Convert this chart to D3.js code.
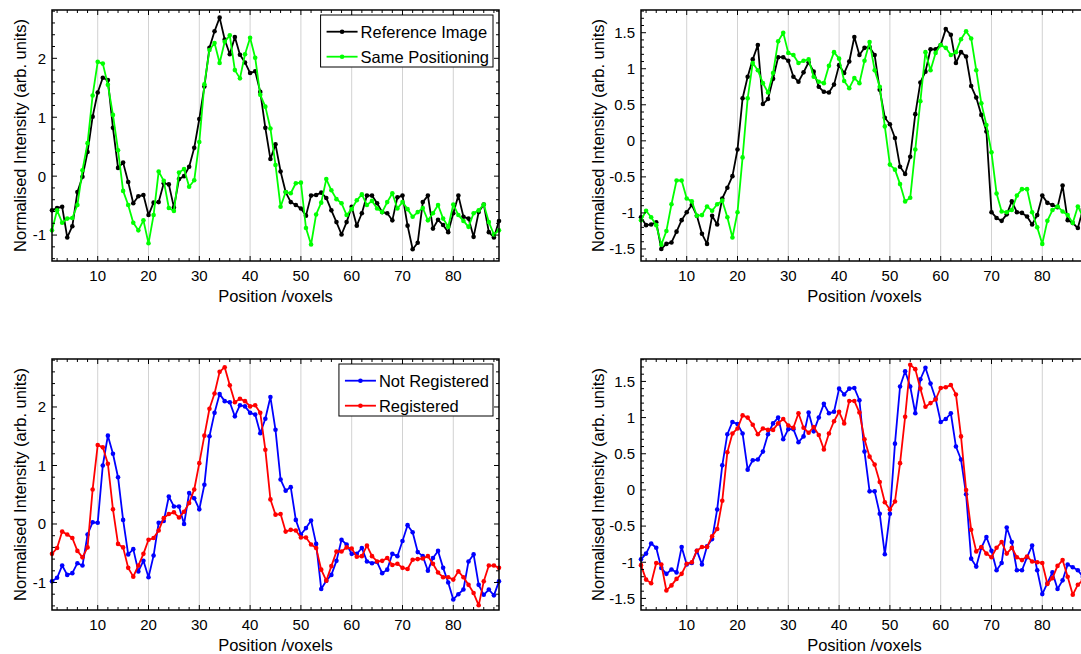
<!DOCTYPE html>
<html>
<head>
<meta charset="utf-8">
<script src="https://cdn.jsdelivr.net/npm/d3@7"></script>
<style>
  body { margin: 0; background: #fff; }
  svg { display: block; font-family: "Liberation Sans", Arial, Helvetica, sans-serif; }
</style>
</head>
<body>
<div id="chart"></div>
<script>
// Intensity profiles along a line through the image, voxel positions 1..89
const voxels = d3.range(1, 90);

const xTicks = [10, 20, 30, 40, 50, 60, 70, 80];
const yTicksLeft = [-1, 0, 1, 2];
const yTicksRight = [-1.5, -1, -0.5, 0, 0.5, 1, 1.5];

// top left
const refImageA = [-0.58, -0.54, -0.52, -1.04, -0.85, -0.27, -0.01, 0.41, 1.01, 1.42,
  1.67, 1.63, 0.82, 0.14, 0.23, -0.10, -0.46, -0.34, -0.32, -0.66,
  -0.45, -0.44, -0.12, -0.14, -0.53, -0.05, 0.00, 0.16, 0.48, 0.97,
  1.52, 2.18, 2.46, 2.69, 2.32, 2.07, 2.36, 2.06, 1.93, 1.75,
  1.78, 1.43, 0.82, 0.29, 0.54, 0.08, -0.27, -0.44, -0.49, -0.55,
  -0.67, -0.33, -0.32, -0.28, -0.37, -0.58, -0.78, -0.99, -0.78, -0.52,
  -0.84, -0.63, -0.33, -0.33, -0.46, -0.61, -0.63, -0.75, -0.36, -0.33,
  -0.84, -1.24, -1.13, -0.44, -0.33, -0.89, -0.74, -0.83, -0.95, -0.63,
  -0.33, -0.69, -0.72, -1.03, -0.61, -0.48, -0.95, -1.04, -0.76];
const samePosA = [-0.92, -0.58, -0.79, -0.72, -0.71, -0.49, 0.10, 0.56, 1.37, 1.94,
  1.91, 1.55, 1.04, 0.44, -0.25, -0.49, -0.79, -0.92, -0.75, -1.14,
  -0.66, 0.08, -0.08, -0.54, -0.59, 0.06, 0.12, -0.18, -0.07, 0.58,
  1.56, 2.14, 2.26, 1.92, 2.28, 2.39, 1.80, 1.66, 2.07, 2.35,
  2.01, 1.38, 1.18, 0.81, 0.19, -0.52, -0.27, -0.29, -0.12, -0.11,
  -0.88, -1.16, -0.65, -0.45, -0.05, -0.24, -0.39, -0.46, -0.66, -0.56,
  -0.41, -0.31, -0.49, -0.42, -0.55, -0.61, -0.44, -0.29, -0.55, -0.44,
  -0.56, -0.69, -0.61, -0.54, -0.75, -0.63, -0.49, -0.72, -0.86, -0.48,
  -0.66, -0.76, -0.86, -0.63, -0.58, -0.48, -0.78, -0.99, -0.92];

// top right
const refImageB = [-1.06, -1.17, -1.16, -1.13, -1.50, -1.43, -1.41, -1.26, -1.10, -0.99,
  -0.89, -1.04, -1.29, -1.43, -1.04, -1.16, -0.80, -0.65, -0.49, -0.12,
  0.59, 0.89, 1.13, 1.33, 0.51, 0.58, 0.86, 1.16, 1.16, 1.11,
  0.89, 0.82, 0.95, 1.09, 0.96, 0.75, 0.68, 0.67, 0.78, 1.05,
  0.94, 1.10, 1.44, 1.19, 1.29, 1.30, 1.19, 0.71, 0.32, 0.23,
  0.04, -0.36, -0.46, -0.22, 0.37, 0.81, 0.96, 1.27, 1.27, 1.33,
  1.55, 1.47, 1.08, 1.23, 1.17, 0.76, 0.60, 0.36, 0.13, -0.99,
  -1.07, -1.11, -1.02, -0.84, -0.99, -1.00, -1.05, -1.16, -1.03, -0.76,
  -0.86, -0.89, -0.92, -0.62, -1.10, -1.14, -1.21, -0.95, -1.05];
const samePosB = [-1.10, -0.97, -1.06, -1.17, -1.44, -1.25, -0.88, -0.55, -0.55, -0.80,
  -0.84, -1.04, -1.03, -0.91, -0.97, -0.88, -0.83, -1.06, -1.34, -0.99,
  -0.23, 0.59, 1.08, 0.98, 0.80, 0.67, 0.94, 1.38, 1.50, 1.22,
  1.19, 1.08, 1.11, 1.13, 0.89, 0.82, 0.80, 1.04, 1.23, 1.14,
  0.83, 0.73, 0.87, 0.80, 1.11, 1.37, 0.98, 0.75, 0.20, -0.33,
  -0.40, -0.60, -0.84, -0.79, -0.12, 0.55, 1.23, 0.98, 1.22, 1.33,
  1.29, 1.19, 1.23, 1.41, 1.52, 1.42, 0.98, 0.52, 0.22, -0.16,
  -0.73, -0.98, -0.99, -0.96, -0.76, -0.67, -0.67, -0.99, -1.20, -1.43,
  -1.11, -0.96, -0.91, -0.98, -1.03, -1.14, -0.91, -1.05, -1.00];

// bottom left
const notRegA = [-0.98, -0.92, -0.71, -0.87, -0.84, -0.67, -0.71, -0.18, 0.03, 0.02,
  1.00, 1.51, 1.20, 0.80, 0.07, -0.52, -0.43, -0.81, -0.63, -0.91,
  -0.54, 0.02, 0.05, 0.47, 0.30, 0.30, 0.00, 0.53, 0.44, 0.25,
  0.67, 1.50, 1.90, 2.22, 2.10, 2.08, 1.84, 2.03, 2.01, 1.90,
  1.87, 1.55, 1.80, 2.17, 1.61, 0.76, 0.57, 0.63, 0.07, -0.18,
  -0.07, 0.06, -0.34, -1.11, -0.97, -0.87, -0.63, -0.27, -0.35, -0.51,
  -0.51, -0.41, -0.64, -0.67, -0.65, -0.84, -0.78, -0.51, -0.55, -0.29,
  -0.02, -0.14, -0.48, -0.55, -0.80, -0.58, -0.46, -0.75, -1.00, -1.29,
  -1.20, -1.12, -0.64, -0.52, -1.04, -1.21, -1.12, -1.22, -0.98];
const regA = [-0.51, -0.41, -0.13, -0.18, -0.24, -0.46, -0.57, -0.40, 0.59, 1.35,
  1.31, 1.03, 0.25, -0.34, -0.40, -0.75, -0.90, -0.71, -0.51, -0.27,
  -0.24, -0.11, 0.10, 0.17, 0.20, 0.11, 0.21, 0.36, 0.59, 1.04,
  1.51, 1.97, 2.23, 2.60, 2.68, 2.37, 2.08, 2.14, 2.10, 2.01,
  2.03, 1.90, 1.27, 0.42, 0.16, 0.17, -0.13, -0.10, -0.11, -0.23,
  -0.23, -0.35, -0.41, -0.78, -0.97, -0.72, -0.47, -0.47, -0.40, -0.42,
  -0.56, -0.55, -0.37, -0.55, -0.64, -0.63, -0.58, -0.70, -0.68, -0.75,
  -0.77, -0.61, -0.60, -0.59, -0.55, -0.68, -0.83, -0.91, -0.91, -0.95,
  -0.81, -0.91, -1.04, -1.18, -1.39, -0.98, -0.71, -0.71, -0.75];

// bottom right
const notRegB = [-0.96, -0.88, -0.74, -0.80, -1.08, -1.16, -1.10, -1.14, -0.79, -1.03,
  -1.01, -0.84, -1.03, -0.78, -0.68, -0.27, 0.34, 0.77, 0.94, 0.91,
  0.78, 0.28, 0.41, 0.42, 0.53, 0.77, 0.92, 1.00, 0.70, 0.84,
  0.84, 0.66, 0.74, 1.07, 0.81, 1.00, 1.19, 1.06, 1.08, 1.40,
  1.32, 1.40, 1.41, 1.24, 0.53, -0.02, -0.02, -0.33, -0.89, -0.33,
  0.64, 1.43, 1.64, 1.43, 1.06, 1.53, 1.69, 1.47, 1.26, 0.94,
  0.98, 1.06, 0.60, 0.42, -0.06, -0.95, -1.06, -0.80, -0.65, -0.84,
  -1.11, -1.01, -0.52, -0.72, -1.11, -1.11, -0.93, -0.77, -1.11, -1.44,
  -1.29, -1.14, -1.37, -1.25, -1.03, -1.07, -1.11, -1.20, -1.15];
const regB = [-1.04, -1.24, -1.29, -1.01, -1.03, -1.39, -1.32, -1.23, -1.16, -1.02,
  -1.00, -0.84, -0.79, -0.79, -0.64, -0.54, -0.15, 0.52, 0.78, 0.85,
  1.03, 1.00, 0.90, 0.77, 0.85, 0.83, 0.83, 0.92, 0.98, 0.89,
  0.86, 1.06, 0.86, 0.79, 0.87, 0.76, 0.56, 0.78, 0.95, 1.08,
  0.92, 1.23, 1.23, 1.07, 0.70, 0.46, 0.35, 0.11, -0.17, -0.27,
  -0.16, 0.37, 1.01, 1.73, 1.67, 1.40, 1.15, 1.20, 1.25, 1.41,
  1.42, 1.45, 1.32, 0.74, 0.00, -0.55, -0.85, -0.79, -0.88, -0.93,
  -0.80, -0.72, -0.88, -0.80, -0.93, -0.97, -0.92, -0.99, -1.00, -1.01,
  -1.30, -1.22, -1.05, -0.97, -1.20, -1.45, -1.31, -1.25, -1.20];

const W = 1081, H = 654;
const plotW = 447, plotH = 251;

const svg = d3.select('#chart')
  .append('svg')
  .attr('width', W)
  .attr('height', H);

svg.append('rect').attr('width', W).attr('height', H).attr('fill', '#fff');

function drawPanel(p) {
  const x = d3.scaleLinear().domain([1, 89]).range([p.left, p.left + plotW]);
  const y = d3.scaleLinear().domain(p.yDomain).range([p.top + plotH, p.top]);
  const g = svg.append('g');
  const bottom = p.top + plotH, right = p.left + plotW;

  // vertical grid at major x ticks
  g.selectAll('.grid')
    .data(xTicks)
    .join('line')
    .attr('x1', d => x(d)).attr('x2', d => x(d))
    .attr('y1', p.top).attr('y2', bottom)
    .attr('stroke', '#d2d2d2')
    .attr('stroke-width', 1);

  const line = d3.line().x((d, i) => x(voxels[i])).y(d => y(d));

  for (const s of p.series) {
    g.append('path')
      .datum(s.values)
      .attr('d', line)
      .attr('fill', 'none')
      .attr('stroke', s.color)
      .attr('stroke-width', 1.8)
      .attr('stroke-linejoin', 'round');
    g.append('g')
      .selectAll('circle')
      .data(s.values)
      .join('circle')
      .attr('cx', (d, i) => x(voxels[i]))
      .attr('cy', d => y(d))
      .attr('r', 2.3)
      .attr('fill', s.color);
  }

  // frame
  g.append('rect')
    .attr('x', p.left).attr('y', p.top)
    .attr('width', plotW).attr('height', plotH)
    .attr('fill', 'none')
    .attr('stroke', '#000')
    .attr('stroke-width', 1.5);

  // inward ticks on all four sides
  const xMinor = d3.range(2, 89, 2).filter(v => !xTicks.includes(v));
  const [y0, y1] = p.yDomain;
  const yMinor = d3.range(Math.ceil(y0 / p.yMinorStep) * p.yMinorStep, y1, p.yMinorStep)
    .filter(v => !p.yTicks.some(t => Math.abs(t - v) < 1e-6));

  const tickPath = d3.path();
  xTicks.forEach(v => {
    tickPath.moveTo(x(v), bottom); tickPath.lineTo(x(v), bottom - 5);
    tickPath.moveTo(x(v), p.top); tickPath.lineTo(x(v), p.top + 5);
  });
  xMinor.forEach(v => {
    tickPath.moveTo(x(v), bottom); tickPath.lineTo(x(v), bottom - 3);
    tickPath.moveTo(x(v), p.top); tickPath.lineTo(x(v), p.top + 3);
  });
  p.yTicks.forEach(v => {
    tickPath.moveTo(p.left, y(v)); tickPath.lineTo(p.left + 5, y(v));
    tickPath.moveTo(right, y(v)); tickPath.lineTo(right - 5, y(v));
  });
  yMinor.forEach(v => {
    tickPath.moveTo(p.left, y(v)); tickPath.lineTo(p.left + 3, y(v));
    tickPath.moveTo(right, y(v)); tickPath.lineTo(right - 3, y(v));
  });
  g.append('path')
    .attr('d', tickPath.toString())
    .attr('stroke', '#000')
    .attr('stroke-width', 1);

  // tick labels
  g.append('g')
    .selectAll('text')
    .data(xTicks)
    .join('text')
    .attr('x', d => x(d))
    .attr('y', bottom + 19.5)
    .attr('text-anchor', 'middle')
    .style('font-size', '15px')
    .text(d => d);

  g.append('g')
    .selectAll('text')
    .data(p.yTicks)
    .join('text')
    .attr('x', p.left - 6)
    .attr('y', d => y(d))
    .attr('dy', '0.36em')
    .attr('text-anchor', 'end')
    .style('font-size', '15px')
    .text(d => d);

  // axis titles
  g.append('text')
    .attr('x', p.left + plotW / 2)
    .attr('y', bottom + 41)
    .attr('text-anchor', 'middle')
    .style('font-size', '16.5px')
    .text('Position /voxels');

  g.append('text')
    .attr('transform', `translate(${p.labelX},${p.top + plotH / 2}) rotate(-90)`)
    .attr('dy', '0.36em')
    .attr('text-anchor', 'middle')
    .style('font-size', '16.5px')
    .text('Normalised Intensity (arb. units)');

  if (p.legend) drawLegend(g, p, right);
}

function drawLegend(g, p, right) {
  const lg = g.append('g');
  const rowY = i => p.top + 21.7 + i * 25;
  const labels = p.series.map((s, i) => lg.append('text')
    .attr('y', rowY(i))
    .attr('dy', '0.36em')
    .style('font-size', '16.5px')
    .text(s.name));
  const textW = d3.max(labels, t => t.node().getComputedTextLength());
  const boxW = 6 + 31 + 3 + textW + 4;
  const bx = right - 6 - boxW;
  const by = p.top + 5;

  lg.insert('rect', ':first-child')
    .attr('x', bx).attr('y', by)
    .attr('width', boxW).attr('height', 52)
    .attr('fill', '#fff')
    .attr('stroke', '#000')
    .attr('stroke-width', 1);

  p.series.forEach((s, i) => {
    lg.append('line')
      .attr('x1', bx + 6).attr('x2', bx + 37)
      .attr('y1', rowY(i)).attr('y2', rowY(i))
      .attr('stroke', s.color)
      .attr('stroke-width', 1.8);
    lg.append('circle')
      .attr('cx', bx + 21.5).attr('cy', rowY(i))
      .attr('r', 2.3)
      .attr('fill', s.color);
    labels[i].attr('x', bx + 40);
  });
}

const green = '#00ff00';

drawPanel({
  left: 52, top: 10, yDomain: [-1.44, 2.82], yTicks: yTicksLeft, yMinorStep: 0.2, labelX: 20, legend: true,
  series: [
    { name: 'Reference Image', values: refImageA, color: '#000' },
    { name: 'Same Positioning', values: samePosA, color: green }
  ]
});
drawPanel({
  left: 641, top: 10, yDomain: [-1.667, 1.815], yTicks: yTicksRight, yMinorStep: 0.1, labelX: 598, legend: false,
  series: [
    { name: 'Reference Image', values: refImageB, color: '#000' },
    { name: 'Same Positioning', values: samePosB, color: green }
  ]
});
drawPanel({
  left: 52, top: 359, yDomain: [-1.47, 2.82], yTicks: yTicksLeft, yMinorStep: 0.2, labelX: 20, legend: true,
  series: [
    { name: 'Not Registered', values: notRegA, color: '#0000ff' },
    { name: 'Registered', values: regA, color: '#ff0000' }
  ]
});
drawPanel({
  left: 641, top: 359, yDomain: [-1.66, 1.81], yTicks: yTicksRight, yMinorStep: 0.1, labelX: 598, legend: false,
  series: [
    { name: 'Not Registered', values: notRegB, color: '#0000ff' },
    { name: 'Registered', values: regB, color: '#ff0000' }
  ]
});
</script>
</body>
</html>
